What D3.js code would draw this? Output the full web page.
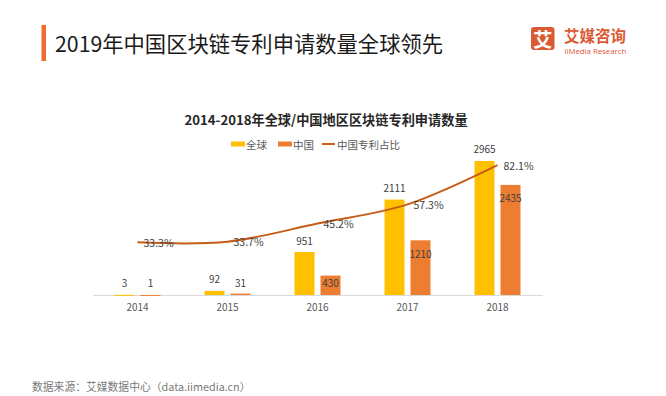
<!DOCTYPE html>
<html>
<head>
<meta charset="utf-8">
<script src="https://cdn.jsdelivr.net/npm/d3@7/dist/d3.min.js"></script>
<style>
  html, body { margin: 0; padding: 0; background: #fff; }
  svg { display: block; font-family: "Noto Sans CJK SC", "Noto Sans", sans-serif; }
</style>
</head>
<body>
<div id="chart"></div>
<script>
const years = ['2014', '2015', '2016', '2017', '2018']
const globalCounts = [3, 92, 951, 2111, 2965]
const chinaCounts = [1, 31, 430, 1210, 2435]
const chinaShare = [0.333, 0.337, 0.452, 0.573, 0.821]
const seriesNames = ['全球', '中国', '中国专利占比']

const width = 666
const height = 396
const baseY = 295

const colors = { global: '#FFC000', china: '#ED7D31', line: '#C65D17' }

const svg = d3
  .select('#chart')
  .append('svg')
  .attr('width', width)
  .attr('height', height)

svg.append('rect').attr('width', width).attr('height', height).attr('fill', '#fff')

// page header
svg
  .append('rect')
  .attr('x', 41.5)
  .attr('y', 25)
  .attr('width', 4.5)
  .attr('height', 36)
  .attr('fill', '#F26B2E')

svg
  .append('text')
  .attr('x', 55)
  .attr('y', 42)
  .attr('dominant-baseline', 'central')
  .attr('font-size', 21.3)
  .attr('fill', '#1a1a1a')
  .text('2019年中国区块链专利申请数量全球领先')

// logo
const logo = svg.append('g')
logo
  .append('rect')
  .attr('x', 531)
  .attr('y', 27)
  .attr('width', 23.5)
  .attr('height', 23)
  .attr('rx', 3)
  .attr('fill', '#DB5A34')
logo
  .append('text')
  .attr('x', 542.75)
  .attr('y', 38.5)
  .attr('text-anchor', 'middle')
  .attr('dominant-baseline', 'central')
  .attr('font-size', 19)
  .attr('font-weight', 'bold')
  .attr('fill', '#fff')
  .text('艾')
logo
  .append('text')
  .attr('x', 564)
  .attr('y', 35)
  .attr('dominant-baseline', 'central')
  .attr('font-size', 15.5)
  .attr('font-weight', 'bold')
  .attr('fill', '#DB5A34')
  .text('艾媒咨询')
logo
  .append('text')
  .attr('x', 564.5)
  .attr('y', 51)
  .attr('dominant-baseline', 'central')
  .attr('font-size', 7.8)
  .attr('font-family', '"Open Sans", sans-serif')
  .attr('fill', '#DB5A34')
  .text('iiMedia Research')

// chart title
svg
  .append('text')
  .attr('x', 326)
  .attr('y', 119.5)
  .attr('text-anchor', 'middle')
  .attr('dominant-baseline', 'central')
  .attr('font-size', 13.2)
  .attr('font-weight', 'bold')
  .attr('fill', '#262626')
  .text('2014-2018年全球/中国地区区块链专利申请数量')

// legend
const legendItems = [
  { name: seriesNames[0], color: colors.global, type: 'bar', x: 231 },
  { name: seriesNames[1], color: colors.china, type: 'bar', x: 278 },
  { name: seriesNames[2], color: colors.line, type: 'line', x: 322 },
]
const legend = svg
  .selectAll('g.legend')
  .data(legendItems)
  .join('g')
  .attr('class', 'legend')
  .attr('transform', d => `translate(${d.x}, 144)`)
legend.each(function(d) {
  const g = d3.select(this)
  if (d.type === 'bar') {
    g.append('rect').attr('x', 0).attr('y', -2.5).attr('width', 14).attr('height', 5).attr('fill', d.color)
  } else {
    g.append('line').attr('x1', 0).attr('x2', 13).attr('y1', 0).attr('y2', 0).attr('stroke', d.color).attr('stroke-width', 2)
  }
})
legend
  .append('text')
  .attr('x', 15)
  .attr('y', 0)
  .attr('dominant-baseline', 'central')
  .attr('font-size', 10.5)
  .attr('fill', '#595959')
  .text(d => d.name)

// scales
const x0 = d3.scaleBand().domain(years).range([92.5, 542.5])
const x1 = d3.scaleBand().domain(['global', 'china']).range([22, 68]).paddingInner(6 / 26)
const y = d3.scaleLinear().domain([0, 3000]).range([baseY, baseY - 135.6])
const yShare = d3.scaleLinear().domain([0, 1]).range([baseY, baseY - 158.2])

const rows = years.map((year, i) => ({
  year,
  global: globalCounts[i],
  china: chinaCounts[i],
  share: chinaShare[i],
}))

// axis
const xAxis = svg
  .append('g')
  .attr('transform', `translate(0, ${baseY})`)
  .call(d3.axisBottom(x0).tickSize(0).tickPadding(9))
xAxis.select('.domain').attr('stroke', '#d9d9d9').attr('stroke-width', 1)
xAxis
  .selectAll('.tick text')
  .attr('font-size', 10)
  .attr('fill', '#595959')
  .attr('font-family', '"Noto Sans CJK SC", sans-serif')

// bars
const groups = svg
  .selectAll('g.year')
  .data(rows)
  .join('g')
  .attr('class', 'year')
  .attr('transform', d => `translate(${x0(d.year)}, 0)`)

groups
  .selectAll('rect')
  .data(d => ['global', 'china'].map(key => ({ key, value: d[key] })))
  .join('rect')
  .attr('x', d => x1(d.key))
  .attr('width', x1.bandwidth())
  .attr('y', d => y(d.value))
  .attr('height', d => Math.max(1, baseY - y(d.value)))
  .attr('fill', d => colors[d.key])

// bar labels: global above the bar, china inside the top end
groups
  .selectAll('text.val')
  .data(d => ['global', 'china'].map(key => ({ key, value: d[key] })))
  .join('text')
  .attr('class', 'val')
  .attr('x', d => x1(d.key) + x1.bandwidth() / 2)
  .attr('y', d => (d.key === 'global' ? y(d.value) - 12 : Math.min(y(d.value) + 13, baseY - 13)))
  .attr('text-anchor', 'middle')
  .attr('dominant-baseline', 'central')
  .attr('font-size', 10)
  .attr('fill', '#404040')
  .text(d => d.value)

// share line
const line = d3
  .line()
  .x(d => x0(d.year) + x0.bandwidth() / 2)
  .y(d => yShare(d.share))
  .curve(d3.curveCatmullRom.alpha(0.5))

svg
  .append('path')
  .datum(rows)
  .attr('d', line)
  .attr('fill', 'none')
  .attr('stroke', colors.line)
  .attr('stroke-width', 2)

svg
  .selectAll('text.share')
  .data(rows)
  .join('text')
  .attr('class', 'share')
  .attr('x', d => x0(d.year) + x0.bandwidth() / 2 + 6)
  .attr('y', d => yShare(d.share))
  .attr('dominant-baseline', 'central')
  .attr('font-size', 10.5)
  .attr('fill', '#404040')
  .text(d => d3.format('.1%')(d.share))

// source
svg
  .append('text')
  .attr('x', 32)
  .attr('y', 386)
  .attr('dominant-baseline', 'central')
  .attr('font-size', 10.8)
  .attr('fill', '#7a7a7a')
  .text('数据来源：艾媒数据中心（data.iimedia.cn）')
</script>
</body>
</html>
